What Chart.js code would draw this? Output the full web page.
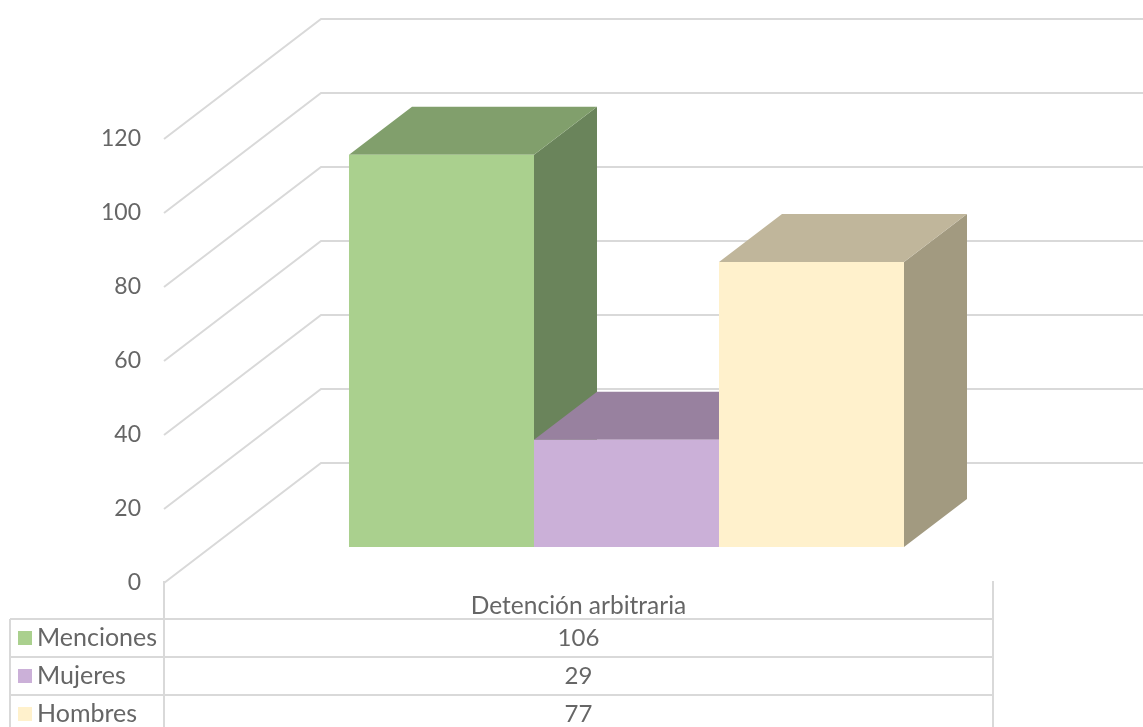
<!DOCTYPE html>
<html>
<head>
<meta charset="utf-8">
<title>Detención arbitraria</title>
<script src="https://cdn.jsdelivr.net/npm/chart.js@4"></script>
<style>
html, body { margin: 0; padding: 0; background: #fff; overflow: hidden; }
canvas { display: block; }
</style>
</head>
<body>
<canvas id="chart" width="1143" height="727"></canvas>
<script>
const categories = ["Detención arbitraria"];
const seriesNames = ["Menciones", "Mujeres", "Hombres"];
const menciones = [106];
const mujeres = [29];
const hombres = [77];
const yTicks = [0, 20, 40, 60, 80, 100, 120];

const frontColors = ["#aad08e", "#cbb0d8", "#fff1cc"];
const topColors = ["#819f6c", "#98819f", "#c0b69b"];
const sideColors = ["#6a845b", "#7d6a85", "#a29a80"];

const gridColor = "#d9d9d9";
const textColor = "#666666";
const fontName = "Lato";

// 3D offsets
const wallDx = 157, wallDy = -120;
const barShiftX = 48, barShiftY = -36;
const barDx = 63, barDy = -48;

const rowTop = 619, rowH = 38, tableLeft = 10;

const wall3d = {
    id: "wall3d",
    beforeDatasetsDraw(chart) {
        const ctx = chart.ctx;
        const y = chart.scales.y;
        const left = chart.chartArea.left;
        ctx.save();
        ctx.strokeStyle = gridColor;
        ctx.lineWidth = 2;
        yTicks.forEach(v => {
            const py = y.getPixelForValue(v);
            ctx.beginPath();
            ctx.moveTo(left, py);
            ctx.lineTo(left + wallDx, py + wallDy);
            ctx.lineTo(chart.width, py + wallDy);
            ctx.stroke();
        });
        ctx.restore();

        // bars sit in front of the back wall, shifted from the axis plane
        ctx.save();
        ctx.translate(barShiftX, barShiftY);
        chart.data.datasets.forEach((ds, i) => {
            const bar = chart.getDatasetMeta(i).data[0];
            const half = bar.width / 2;
            const l = bar.x - half, r = bar.x + half, t = bar.y, b = bar.base;
            ctx.fillStyle = sideColors[i];
            ctx.beginPath();
            ctx.moveTo(r, t);
            ctx.lineTo(r + barDx, t + barDy);
            ctx.lineTo(r + barDx, b + barDy);
            ctx.lineTo(r, b);
            ctx.closePath();
            ctx.fill();
            ctx.fillStyle = topColors[i];
            ctx.beginPath();
            ctx.moveTo(l, t);
            ctx.lineTo(l + barDx, t + barDy);
            ctx.lineTo(r + barDx, t + barDy);
            ctx.lineTo(r, t);
            ctx.closePath();
            ctx.fill();
        });
    },
    afterDatasetsDraw(chart) {
        chart.ctx.restore();
    }
};

const dataTable = {
    id: "dataTable",
    afterDraw(chart) {
        const ctx = chart.ctx;
        const a = chart.chartArea;
        const rows = [menciones, mujeres, hombres];
        ctx.save();
        ctx.strokeStyle = gridColor;
        ctx.lineWidth = 2;
        ctx.beginPath();
        ctx.moveTo(a.left, a.bottom - 2); ctx.lineTo(a.left, chart.height);
        ctx.moveTo(a.right, a.bottom - 2); ctx.lineTo(a.right, chart.height);
        ctx.moveTo(tableLeft, rowTop); ctx.lineTo(tableLeft, chart.height);
        rows.forEach((r, i) => {
            ctx.moveTo(tableLeft, rowTop + i * rowH);
            ctx.lineTo(a.right, rowTop + i * rowH);
        });
        ctx.stroke();

        ctx.textBaseline = "middle";
        rows.forEach((r, i) => {
            const cy = rowTop + i * rowH + rowH / 2;
            ctx.fillStyle = frontColors[i];
            ctx.fillRect(18, cy - 7, 14, 14);
            ctx.fillStyle = textColor;
            ctx.font = "400 25px " + fontName;
            ctx.textAlign = "left";
            ctx.fillText(seriesNames[i], 37, cy);
            ctx.font = "400 24px " + fontName;
            ctx.textAlign = "center";
            ctx.fillText(String(r[0]), (a.left + a.right) / 2, cy);
        });
        ctx.restore();
    }
};

new Chart(document.getElementById("chart"), {
    type: "bar",
    data: {
        labels: categories,
        datasets: [
            { label: seriesNames[0], data: menciones, backgroundColor: frontColors[0] },
            { label: seriesNames[1], data: mujeres, backgroundColor: frontColors[1] },
            { label: seriesNames[2], data: hombres, backgroundColor: frontColors[2] }
        ]
    },
    options: {
        responsive: false,
        animation: false,
        devicePixelRatio: 1,
        clip: false,
        barPercentage: 1,
        categoryPercentage: 0.6695,
        layout: { padding: { top: 139, right: 150, left: 0, bottom: 0 } },
        plugins: { legend: { display: false }, tooltip: { enabled: false } },
        scales: {
            x: {
                grid: { display: false },
                border: { display: false },
                ticks: { color: textColor, font: { family: fontName, size: 24.5, weight: 400 }, padding: 0 },
                afterFit: s => { s.height = 144; }
            },
            y: {
                min: 0,
                max: 120,
                grid: { display: false },
                border: { display: false },
                ticks: { stepSize: 20, color: textColor, font: { family: fontName, size: 23, weight: 400 }, padding: 15 },
                afterFit: s => { s.width = 164; }
            }
        }
    },
    plugins: [wall3d, dataTable]
});
</script>
</body>
</html>
